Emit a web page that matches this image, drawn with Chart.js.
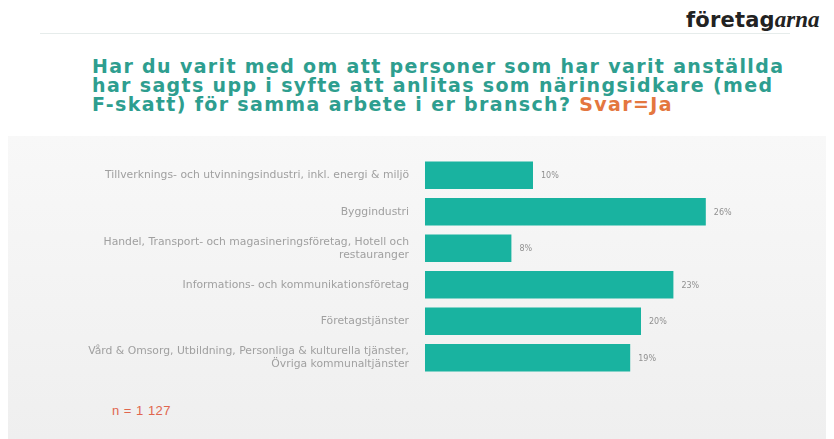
<!DOCTYPE html>
<html>
<head>
<meta charset="utf-8">
<script src="https://cdn.jsdelivr.net/npm/chart.js@4.4.1/dist/chart.umd.min.js"></script>
<style>
  html, body { margin: 0; padding: 0; width: 834px; height: 439px; overflow: hidden; background: #fff; }
  #bg { position: absolute; left: 8px; top: 136px; width: 818px; height: 303px;
        background: linear-gradient(#f8f8f8, #efefef); }
  #rule { position: absolute; left: 40px; top: 33px; width: 750px; height: 1px; background: #e6eceb; }
  #logo { position: absolute; left: 686px; top: 7px; font: bold 21px "DejaVu Sans", sans-serif; color: #222; letter-spacing: 0.2px; white-space: nowrap; }
  #logo i { font-family: "Liberation Serif", serif; font-size: 23px; font-weight: bold; letter-spacing: 0; }
  #title { position: absolute; left: 92px; top: 57px; width: 740px; white-space: nowrap;
           font: bold 19px "DejaVu Sans", sans-serif; line-height: 19px; color: #2e9e8f; letter-spacing: 1.35px; }
  #title span { color: #e4773f; }
  #note { position: absolute; left: 112px; top: 403px; font: 13px "Liberation Sans", sans-serif; color: #e0664e; letter-spacing: 0.5px; }
  #chart { position: absolute; left: 0; top: 0; }
</style>
</head>
<body>
<div id="bg"></div>
<div id="rule"></div>
<div id="logo">företag<i>arna</i></div>
<div id="title">Har du varit med om att personer som har varit anställda<br>har sagts upp i syfte att anlitas som näringsidkare (med<br>F-skatt) för samma arbete i er bransch? <span>Svar=Ja</span></div>
<div id="note">n = 1 127</div>
<canvas id="chart" width="834" height="439"></canvas>
<script>
const categories = [
  'Tillverknings- och utvinningsindustri, inkl. energi & miljö',
  'Byggindustri',
  ['Handel, Transport- och magasineringsföretag, Hotell och', 'restauranger'],
  'Informations- och kommunikationsföretag',
  'Företagstjänster',
  ['Vård & Omsorg, Utbildning, Personliga & kulturella tjänster,', 'Övriga kommunaltjänster']
];
const shares = [10, 26, 8, 23, 20, 19];
const xMax = 30;

// percentage labels at the end of each bar
const valueLabels = {
  id: 'valueLabels',
  afterDatasetsDraw(chart) {
    const ctx = chart.ctx;
    ctx.save();
    ctx.font = '8px "DejaVu Sans", sans-serif';
    ctx.fillStyle = '#909090';
    ctx.textBaseline = 'middle';
    chart.getDatasetMeta(0).data.forEach((bar, i) => {
      ctx.fillText(shares[i] + '%', bar.x + 8, bar.y + 1);
    });
    ctx.restore();
  }
};

new Chart(document.getElementById('chart'), {
  type: 'bar',
  data: {
    labels: categories,
    datasets: [{
      data: shares,
      backgroundColor: '#19b3a0',
      borderWidth: 0,
      categoryPercentage: 1,
      barPercentage: 0.76
    }]
  },
  plugins: [valueLabels],
  options: {
    indexAxis: 'y',
    responsive: false,
    animation: false,
    devicePixelRatio: 1,
    layout: { padding: { top: 157, bottom: 63, right: 85, left: 0 } },
    plugins: { legend: { display: false }, tooltip: { enabled: false } },
    scales: {
      x: { min: 0, max: xMax, display: false },
      y: {
        grid: { display: false },
        border: { display: false },
        afterFit: s => { s.width = 425; },
        ticks: {
          color: '#a0a0a0',
          padding: 8,
          font: { family: '"DejaVu Sans", sans-serif', size: 10.8, lineHeight: 1.2 }
        }
      }
    }
  }
});
</script>
</body>
</html>
